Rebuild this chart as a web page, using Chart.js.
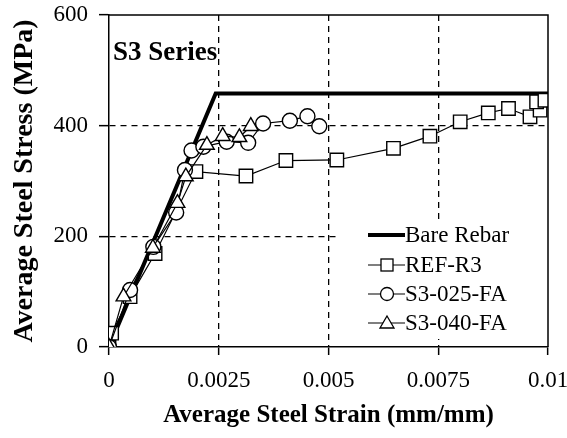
<!DOCTYPE html>
<html>
<head>
    <title>S3 Series</title>
    <script src="https://cdn.jsdelivr.net/npm/chart.js"></script>
    <style>
        html, body { margin: 0; padding: 0; background: #fff; }
        #wrap { position: relative; width: 567px; height: 438px; }
    </style>
</head>
<body>
    <div id="wrap"><canvas id="stressChart" width="567" height="438"></canvas></div>

    <script>
    // Values (strain in mm/mm, stress in MPa)
    const bareStrain = [0, 0.00243, 0.01];
    const bareStress = [0, 458, 458];

    const refStrain = [0, 0.00006, 0.00048, 0.00105, 0.00198, 0.00312, 0.00403, 0.00519, 0.00648, 0.00731, 0.0080, 0.00864, 0.0091, 0.00959, 0.00982, 0.00974, 0.00993];
    const refStress = [0, 25, 91, 169, 317, 309, 337, 338, 359, 381, 407, 423, 431, 416, 428, 443, 446];

    const fa25Strain = [0, 0.00048, 0.00101, 0.00153, 0.00173, 0.00188, 0.00215, 0.00268, 0.00317, 0.00351, 0.00412, 0.00452, 0.00479];
    const fa25Stress = [0, 103, 181, 243, 320, 355, 362, 371, 369, 404, 409, 417, 399];

    const fa40Strain = [0, 0.00033, 0.0010, 0.00156, 0.00175, 0.00223, 0.00259, 0.00297, 0.00323];
    const fa40Stress = [0, 91, 179, 260, 308, 365, 381, 379, 399];

    const seriesNames = ['Bare Rebar', 'REF-R3', 'S3-025-FA', 'S3-040-FA'];
    const xTickLabels = ['0', '0.0025', '0.005', '0.0075', '0.01'];
    const yTickLabels = ['0', '200', '400', '600'];
    const panelTitle = 'S3 Series';

    const FONT = '"Liberation Serif", "Times New Roman", serif';

    function toPoints(xs, ys) {
        return xs.map((x, i) => ({ x: x, y: ys[i] }));
    }

    // Frame, panel label and legend drawn on the canvas
    const extras = {
        id: 'extras',
        afterDraw(chart) {
            const ctx = chart.ctx;
            const a = chart.chartArea;
            ctx.save();
            ctx.strokeStyle = '#000';
            ctx.lineWidth = 1.5;
            ctx.beginPath();
            ctx.moveTo(a.left, a.top);
            ctx.lineTo(a.right, a.top);
            ctx.lineTo(a.right, a.bottom);
            ctx.stroke();

            // panel label
            ctx.fillStyle = '#000';
            ctx.font = 'bold 27px ' + FONT;
            ctx.textBaseline = 'alphabetic';
            ctx.textAlign = 'left';
            ctx.fillText(panelTitle, a.left + 4, 60);

            // legend
            ctx.fillStyle = '#fff';
            ctx.fillRect(340, 221, a.right - 341, 118);
            const rows = [235, 265, 294, 323];
            chart.data.datasets.forEach((ds, i) => {
                const y = rows[i];
                ctx.strokeStyle = '#000';
                ctx.lineWidth = ds.borderWidth;
                ctx.beginPath();
                ctx.moveTo(368, y);
                ctx.lineTo(405, y);
                ctx.stroke();
                ctx.lineWidth = 1.3;
                ctx.fillStyle = '#fff';
                const cx = 387;
                if (ds.pointStyle === 'rect') {
                    ctx.fillRect(cx - 6, y - 6, 12, 12);
                    ctx.strokeRect(cx - 6, y - 6, 12, 12);
                } else if (ds.pointStyle === 'circle') {
                    ctx.beginPath();
                    ctx.arc(cx, y, 6.5, 0, Math.PI * 2);
                    ctx.fill();
                    ctx.stroke();
                } else if (ds.pointStyle === 'triangle') {
                    ctx.beginPath();
                    ctx.moveTo(cx, y - 7);
                    ctx.lineTo(cx + 7, y + 5);
                    ctx.lineTo(cx - 7, y + 5);
                    ctx.closePath();
                    ctx.fill();
                    ctx.stroke();
                }
                ctx.fillStyle = '#000';
                ctx.font = '23px ' + FONT;
                ctx.textBaseline = 'middle';
                ctx.fillText(ds.label, 405, y + 1);
            });
            ctx.restore();
        }
    };

    const markerBase = {
        showLine: true,
        borderColor: '#000',
        borderWidth: 1.2,
        pointBackgroundColor: '#fff',
        pointBorderColor: '#000',
        pointBorderWidth: 1.4,
        tension: 0
    };

    new Chart(document.getElementById('stressChart'), {
        type: 'scatter',
        data: {
            datasets: [
                {
                    label: seriesNames[0],
                    data: toPoints(bareStrain, bareStress),
                    showLine: true,
                    borderColor: '#000',
                    borderWidth: 4,
                    pointRadius: 0,
                    pointStyle: false,
                    order: 4
                },
                Object.assign({}, markerBase, {
                    label: seriesNames[1],
                    data: toPoints(refStrain, refStress),
                    pointStyle: 'rect',
                    pointRadius: 9.5,
                    order: 3
                }),
                Object.assign({}, markerBase, {
                    label: seriesNames[2],
                    data: toPoints(fa25Strain, fa25Stress),
                    pointStyle: 'circle',
                    pointRadius: 7.5,
                    order: 2
                }),
                Object.assign({}, markerBase, {
                    label: seriesNames[3],
                    data: toPoints(fa40Strain, fa40Stress),
                    pointStyle: 'triangle',
                    pointRadius: 8.5,
                    order: 1
                })
            ]
        },
        options: {
            responsive: false,
            animation: false,
            layout: { padding: { left: 0, right: 19, top: 15, bottom: 0 } },
            plugins: {
                legend: { display: false },
                tooltip: { enabled: false }
            },
            scales: {
                x: {
                    type: 'linear',
                    min: 0,
                    max: 0.01,
                    afterFit: s => { s.height = 91; s.paddingLeft = 0; s.paddingRight = 0; },
                    ticks: {
                        stepSize: 0.0025,
                        color: '#000',
                        padding: 12,
                        font: { family: FONT, size: 23 },
                        callback: (v, i) => xTickLabels[i]
                    },
                    grid: {
                        color: c => (c.index === 0 || c.index === 4) ? 'rgba(0,0,0,0)' : '#000',
                        lineWidth: 1.3,
                        tickColor: '#000',
                        tickLength: 8,
                        tickWidth: 1.5
                    },
                    border: { color: '#000', width: 1.5, dash: [6, 5] },
                    title: {
                        display: true,
                        text: 'Average Steel Strain (mm/mm)',
                        color: '#000',
                        padding: { top: 0, bottom: 7 },
                        font: { family: FONT, size: 25, weight: 'bold' }
                    }
                },
                y: {
                    min: 0,
                    max: 600,
                    afterFit: s => { s.width = 109; s.paddingTop = 0; s.paddingBottom = 0; },
                    ticks: {
                        stepSize: 200,
                        color: '#000',
                        padding: 11,
                        font: { family: FONT, size: 23 },
                        callback: (v, i) => yTickLabels[i]
                    },
                    grid: {
                        color: c => (c.index === 0 || c.index === 3) ? 'rgba(0,0,0,0)' : '#000',
                        lineWidth: 1.3,
                        tickColor: '#000',
                        tickLength: 10,
                        tickWidth: 1.5
                    },
                    border: { color: '#000', width: 1.5, dash: [6, 5] },
                    title: {
                        display: true,
                        text: 'Average Steel Stress (MPa)',
                        color: '#000',
                        padding: { top: 8, bottom: 0 },
                        font: { family: FONT, size: 28, weight: 'bold' }
                    }
                }
            }
        },
        plugins: [extras]
    });
    </script>
</body>
</html>
